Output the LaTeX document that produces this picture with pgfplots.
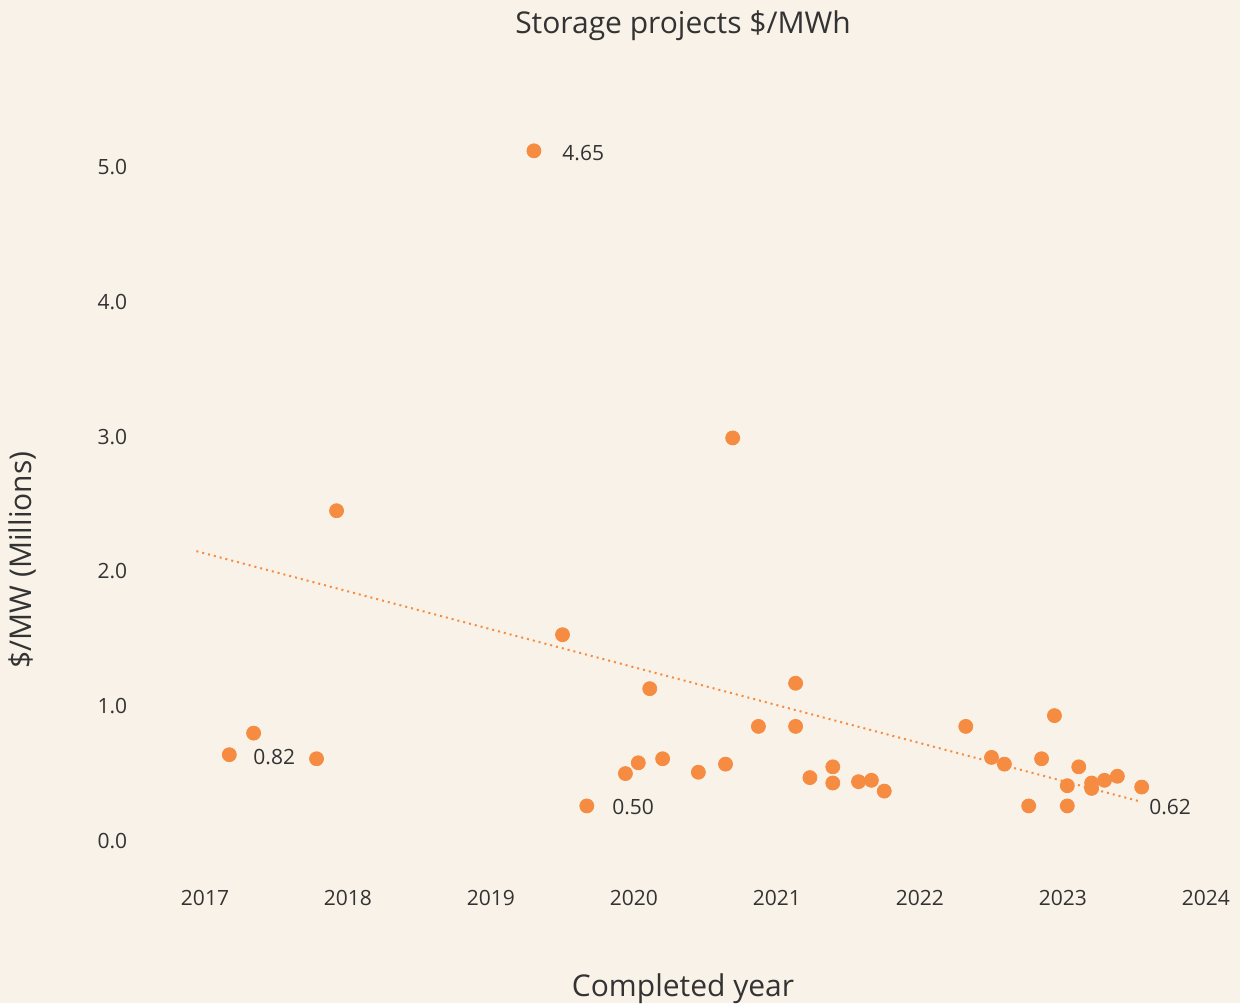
\documentclass[border=0pt]{standalone}
\usepackage{fontspec}
\setmainfont{Open Sans}
\usepackage{xcolor}
\usepackage{pgfplots}
\pgfplotsset{compat=1.18}
\definecolor{bgcream}{HTML}{F9F2E8}
\definecolor{dotorange}{HTML}{F68C42}
\definecolor{inkgray}{HTML}{333333}

\begin{document}
\begin{tikzpicture}
\fill[bgcream] (0,0) rectangle (620pt,501.5pt);
\useasboundingbox (0,0) rectangle (620pt,501.5pt);
\begin{axis}[
  at={(59.6pt,60.8pt)}, anchor=south west,
  scale only axis, width=557.7pt, height=390.9pt,
  xmin=2016.4, xmax=2024.2, ymin=-0.3, ymax=5.5,
  axis line style={draw=none}, major tick length=0pt,
  xtick={2017,...,2024}, ytick={0,1,2,3,4,5},
  /pgf/number format/assume math mode=true,
  xticklabel style={/pgf/number format/1000 sep={}, font=\fontsize{10.5}{12}\selectfont, text=inkgray, yshift=-1pt},
  yticklabel style={/pgf/number format/fixed, /pgf/number format/fixed zerofill,
    /pgf/number format/precision=1, font=\fontsize{10.5}{12}\selectfont, text=inkgray, xshift=7.5pt},
  title={Storage projects \$/MWh},
  title style={at={(rel axis cs:0.5055,1.0967)}, anchor=center, yshift=-7pt, font=\fontsize{15}{18}\selectfont, text=inkgray},
  xlabel={Completed year},
  xlabel style={at={(rel axis cs:0.5055,-0.1325)}, anchor=center, yshift=-2pt, font=\fontsize{15}{18}\selectfont, text=inkgray},
  ylabel={\$/MW (Millions)},
  ylabel style={at={(rel axis cs:-0.0871,0.411)}, anchor=center, rotate=0, font=\fontsize{15}{18}\selectfont, text=inkgray},
  clip=false,
]
\addplot[dotorange, dash pattern=on 1pt off 2pt, line width=1pt] coordinates {
  (2016.94,2.15) (2023.55,0.29) };
\addplot[only marks, mark=*, mark size=3.5pt, draw=dotorange, fill=dotorange] coordinates {
  (2017.17,0.64) (2017.34,0.80) (2017.78,0.61) (2017.92,2.45) (2019.30,5.12)
  (2019.50,1.53) (2019.67,0.26) (2019.94,0.50) (2020.03,0.58) (2020.11,1.13)
  (2020.20,0.61) (2020.45,0.51) (2020.64,0.57) (2020.69,2.99) (2020.87,0.85)
  (2021.13,1.17) (2021.13,0.85) (2021.23,0.47) (2021.39,0.55) (2021.39,0.43)
  (2021.57,0.44) (2021.66,0.45) (2021.75,0.37) (2022.32,0.85) (2022.50,0.62)
  (2022.59,0.57) (2022.76,0.26) (2022.85,0.61) (2022.94,0.93) (2023.03,0.41)
  (2023.03,0.26) (2023.11,0.55) (2023.20,0.43) (2023.20,0.39) (2023.29,0.45)
  (2023.38,0.48) (2023.55,0.40) };
\node[anchor=west, inner sep=0pt, text=inkgray, font=\fontsize{10.5}{12}\selectfont] at (axis cs:2019.497,5.104) {4.65};
\node[anchor=west, inner sep=0pt, text=inkgray, font=\fontsize{10.5}{12}\selectfont] at (axis cs:2017.336,0.623) {0.82};
\node[anchor=west, inner sep=0pt, text=inkgray, font=\fontsize{10.5}{12}\selectfont] at (axis cs:2019.846,0.252) {0.50};
\node[anchor=west, inner sep=0pt, text=inkgray, font=\fontsize{10.5}{12}\selectfont] at (axis cs:2023.601,0.252) {0.62};
\end{axis}
\end{tikzpicture}
\end{document}
